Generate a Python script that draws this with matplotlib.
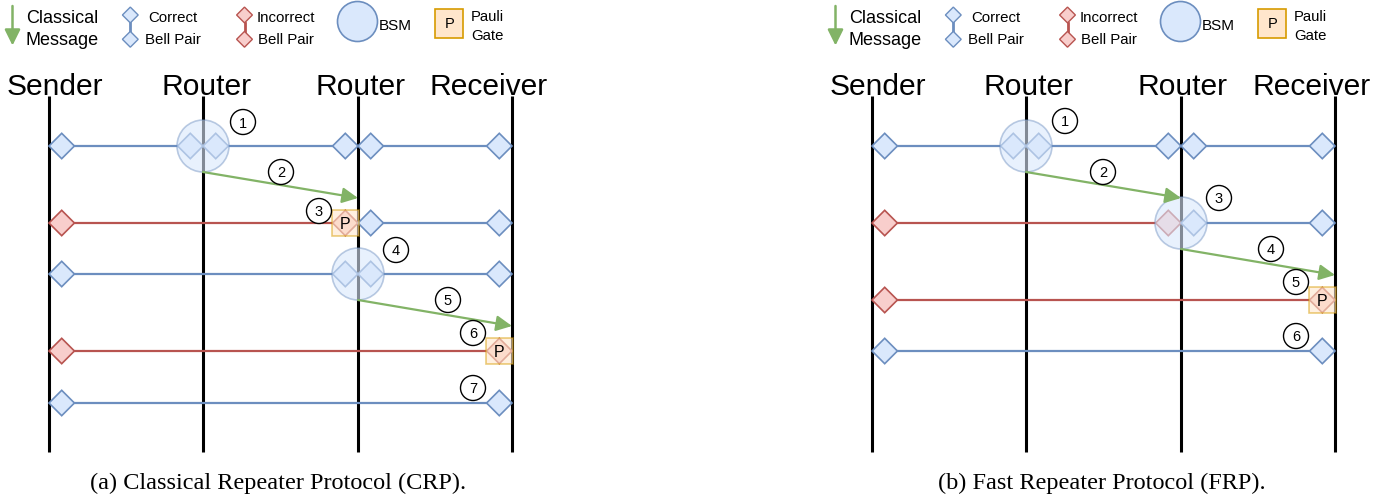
import matplotlib
matplotlib.use("Agg")
import matplotlib.pyplot as plt
from matplotlib.patches import Polygon, Circle, Rectangle, FancyArrowPatch

# draw.io palette
BLUE_FILL, BLUE_EDGE = "#dae8fc", "#6c8ebf"
RED_FILL, RED_EDGE = "#f8cecc", "#b85450"
ORANGE_FILL, ORANGE_EDGE = "#ffe6cc", "#d79b00"
GREEN = "#82b366"
SANS = "Liberation Sans"
SERIF = "Liberation Serif"

# ---- data ----
node_names = ["Sender", "Router", "Router", "Receiver"]
captions = ["(a) Classical Repeater Protocol (CRP).",
            "(b) Fast Repeater Protocol (FRP)."]
legend_labels = [("Classical", "Message"), ("Correct", "Bell Pair"),
                 ("Incorrect", "Bell Pair"), "BSM", ("Pauli", "Gate")]

# panel (a): bell pairs per row as (from node, to node, correct?)
crp_rows = [147, 224, 275, 352, 404]
crp_pairs = [
    [(0, 1, True), (1, 2, True), (2, 3, True)],
    [(0, 2, False), (2, 3, True)],
    [(0, 2, True), (2, 3, True)],
    [(0, 3, False)],
    [(0, 3, True)],
]
crp_bsm = [(0, 1), (2, 2)]      # (row, node) swaps, each sends a message on
crp_pauli = [(1, 2), (3, 3)]    # (row, node) corrections
crp_steps = [(243, 123), (281, 173), (319, 212), (396, 251),
             (448, 301), (473, 334), (473, 389)]

# panel (b)
frp_rows = [147, 224, 301, 352]
frp_pairs = [
    [(0, 1, True), (1, 2, True), (2, 3, True)],
    [(0, 2, False), (2, 3, True)],
    [(0, 3, False)],
    [(0, 3, True)],
]
frp_bsm = [(0, 1), (1, 2)]
frp_pauli = [(2, 3)]
frp_steps = [(242, 122), (280, 173), (396, 199), (448, 250),
             (473, 283), (473, 337)]

# ---- layout (pixels) ----
node_x = [49, 203, 358, 512]
name_x = [55, 206, 360, 489]
panel_dx = [0, 823]
H = 12.7      # diamond half size
R = 26        # bsm radius

fig = plt.figure(figsize=(13.95, 5.02), dpi=100)
ax = fig.add_axes([0, 0, 1, 1])
ax.set_xlim(0, 1395)
ax.set_ylim(502, 0)
ax.axis("off")


def diamond(x, y, h, ok, z=3, lw=1.2):
    fc, ec = (BLUE_FILL, BLUE_EDGE) if ok else (RED_FILL, RED_EDGE)
    ax.add_patch(Polygon([(x - h, y), (x, y - h), (x + h, y), (x, y + h)],
                         closed=True, fc=fc, ec=ec, lw=lw, zorder=z))


def arrow(p0, p1, lw=1.6, scale=10):
    ax.add_patch(FancyArrowPatch(p0, p1, arrowstyle="-|>,head_length=0.95,head_width=0.47",
                                 mutation_scale=scale, color=GREEN, lw=lw,
                                 shrinkA=0, shrinkB=0, zorder=5))


def legend(dx):
    arrow((12.5 + dx, 7), (12.5 + dx, 46.5), lw=1.8, scale=10)
    for i, (top, bot) in enumerate([legend_labels[0]]):
        ax.text(62 + dx, 23.2, top, ha="center", va="baseline", fontsize=13, family=SANS)
        ax.text(62 + dx, 44.6, bot, ha="center", va="baseline", fontsize=13, family=SANS)
    for (top, bot), ok, x, tx in [(legend_labels[1], True, 130.3, 173),
                                  (legend_labels[2], False, 244.5, 286)]:
        ec = BLUE_EDGE if ok else RED_EDGE
        ax.plot([x + dx, x + dx], [16 + 7.9, 40.3 - 7.9], color=ec, lw=2, zorder=2)
        diamond(x + dx, 16, 7.9, ok, lw=1.0)
        diamond(x + dx, 40.3, 7.9, ok, lw=1.0)
        ax.text(tx + dx, 22.1, top, ha="center", va="baseline", fontsize=10.8, family=SANS)
        ax.text(tx + dx, 43.6, bot, ha="center", va="baseline", fontsize=10.8, family=SANS)
    ax.add_patch(Circle((357.5 + dx, 22.5), 20, fc=BLUE_FILL, ec=BLUE_EDGE, lw=1.2))
    ax.text(379 + dx, 30, legend_labels[3], ha="left", va="baseline", fontsize=11, family=SANS)
    ax.add_patch(Rectangle((435 + dx, 10), 28.3, 29, fc=ORANGE_FILL, ec=ORANGE_EDGE, lw=1.2))
    ax.text(449.2 + dx, 27.7, "P", ha="center", va="baseline", fontsize=10.5, family=SANS)
    ax.text(487 + dx, 20.7, legend_labels[4][0], ha="center", va="baseline", fontsize=10.7, family=SANS)
    ax.text(487 + dx, 40, legend_labels[4][1], ha="center", va="baseline", fontsize=10.7, family=SANS)


panels = [(crp_rows, crp_pairs, crp_bsm, crp_pauli, crp_steps),
          (frp_rows, frp_pairs, frp_bsm, frp_pauli, frp_steps)]

for p, (rows, pairs, bsm, pauli, steps) in enumerate(panels):
    dx = panel_dx[p]
    xs = [x + dx for x in node_x]
    legend(dx)

    # headers and timelines
    for name, nx, x in zip(node_names, name_x, xs):
        ax.text(nx + dx, 94.6, name, ha="center", va="baseline", fontsize=21.6, family=SANS)
        ax.plot([x, x], [97, 453], color="black", lw=2.2, zorder=1, solid_capstyle="butt")

    # bell pairs
    for y, row in zip(rows, pairs):
        for i, j, ok in row:
            lx, rx = xs[i] + H, xs[j] - H
            ax.plot([lx, rx], [y, y], color=BLUE_EDGE if ok else RED_EDGE, lw=1.6, zorder=2)
            diamond(lx, y, H, ok)
            diamond(rx, y, H, ok)

    # pauli corrections
    for r, j in pauli:
        cx, y = xs[j] - H, rows[r]
        ax.add_patch(Rectangle((cx - 13.5, y - 13), 27, 26, fc=ORANGE_FILL, alpha=0.6,
                               ec="none", zorder=4))
        ax.add_patch(Rectangle((cx - 13.5, y - 13), 27, 26, fc="none", ec=ORANGE_EDGE,
                               alpha=0.5, lw=1.2, zorder=4))
        ax.text(cx, y + 5, "P", ha="center", va="baseline", fontsize=11.5, family=SANS, zorder=5)

    # bell state measurements and the classical messages they send
    for r, j in bsm:
        y = rows[r]
        ax.add_patch(Circle((xs[j], y), R, fc=BLUE_FILL, alpha=0.6, ec="none", zorder=4))
        ax.add_patch(Circle((xs[j], y), R, fc="none", ec=BLUE_EDGE, alpha=0.45, lw=1.2, zorder=4))
        arrow((xs[j], y + R), (xs[j + 1], y + 2 * R))

    # step numbers
    for k, (sx, sy) in enumerate(steps):
        ax.add_patch(Circle((sx + dx, sy), 12.5, fc="white", ec="black", lw=1.0, zorder=6))
        ax.text(sx + dx, sy + 0.5, str(k + 1), ha="center", va="center", fontsize=10.5,
                family=SANS, zorder=7)

    ax.text(278.4 + dx, 489, captions[p], ha="center", va="baseline", fontsize=17.5, family=SERIF)

fig.savefig("out.png", dpi=100)
